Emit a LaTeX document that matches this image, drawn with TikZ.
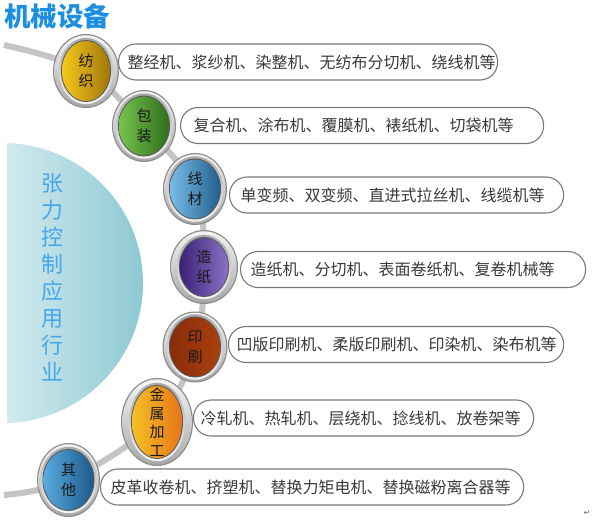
\documentclass[tikz,border=0pt]{standalone}
\usepackage{fontspec}
\newfontfamily\cjk{Noto Sans CJK SC}
\newfontfamily\djv{DejaVu Sans}
\usetikzlibrary{shapes.geometric}
\definecolor{titleblue}{HTML}{1C8FE3}
\definecolor{vblue}{HTML}{45A6EE}
\definecolor{tealL}{HTML}{D2EAEE}
\definecolor{tealR}{HTML}{8CC8D2}
\definecolor{arcgray}{HTML}{C4C4C4}
\definecolor{pillborder}{HTML}{7A7A7A}
\definecolor{pilltext}{HTML}{3A3A3A}
\definecolor{ringedge}{HTML}{8E8E8E}
\definecolor{ringA}{HTML}{F4F4F4}
\definecolor{ringB}{HTML}{A8A8A8}
\definecolor{ringinner}{HTML}{5A5A5A}
\tikzset{
  arcline/.style={draw=arcgray, line width=6pt},
  pill/.style={draw=pillborder, line width=1.1pt, fill=white, rounded corners=17.5pt,
    minimum height=36pt, anchor=west, align=left, inner ysep=0pt,
    font=\cjk\fontsize{16}{16}\selectfont, text=pilltext},
  balltxt/.style={align=center, inner sep=0pt, text=black!90,
    font=\cjk\fontsize{15}{20}\selectfont},
  g1/.style={left color={rgb,255:red,246;green,200;blue,28}, right color={rgb,255:red,160;green,118;blue,10}},
  g2/.style={left color={rgb,255:red,120;green,194;blue,78}, right color={rgb,255:red,46;green,110;blue,28}},
  g3/.style={left color={rgb,255:red,120;green,188;blue,232}, right color={rgb,255:red,34;green,96;blue,142}},
  g4/.style={left color={rgb,255:red,60;green,34;blue,118}, middle color={rgb,255:red,106;green,76;blue,168}, right color={rgb,255:red,140;green,114;blue,198}},
  g5/.style={left color={rgb,255:red,138;green,44;blue,10}, middle color={rgb,255:red,224;green,102;blue,26}, right color={rgb,255:red,168;green,64;blue,14}},
  g6/.style={left color={rgb,255:red,244;green,192;blue,36}, middle color={rgb,255:red,243;green,144;blue,32}, right color={rgb,255:red,232;green,118;blue,26}},
  g7/.style={left color={rgb,255:red,90;green,170;blue,224}, right color={rgb,255:red,28;green,90;blue,138}},
}
% #1 name, #2 x, #3 y, #4 outer rx, #5 outer ry, #6 inner rx, #7 inner ry, #8 shading style, #9 text
\newcommand\myball[9]{%
  \node[ellipse, inner sep=0pt, minimum width=2*#4pt, minimum height=2*#5pt] (#1) at (#2,#3) {};
  \fill[ringedge] (#1.center) ellipse[x radius=#4pt, y radius=#5pt];
  \shade[top color=ringA, bottom color=ringB] (#1.center) ellipse[x radius=#4pt-1.3pt, y radius=#5pt-1.3pt];
  \shade[top color=ringB, bottom color=ringA] (#1.center) ellipse[x radius=#6pt+3.2pt, y radius=#7pt+3.2pt];
  \fill[ringinner] (#1.center) ellipse[x radius=#6pt+1pt, y radius=#7pt+1pt];
  \shade[#8] (#1.center) ellipse[x radius=#6pt, y radius=#7pt];
  \node[balltxt] (#1t) at (#1.center) {#9};
}
\begin{document}
\begin{tikzpicture}[x=1pt,y=-1pt]
\useasboundingbox (0,0) rectangle (593,520);
\fill[white] (0,0) rectangle (593,520);

% title
\node[font=\cjk\bfseries\fontsize{26.5}{26.5}\selectfont, text=titleblue, inner sep=0pt, anchor=west] (title) at (4,16) {机械设备};

% big semicircle
\shade[left color=tealL, right color=tealR] (7,143.1) arc[start angle=88.36, end angle=-88.36, radius=140pt] -- cycle;
\node[font=\cjk\fontsize{22}{27}\selectfont, text=vblue, align=center, inner sep=0pt] (vt) at (52,277)
  {张\\力\\控\\制\\应\\用\\行\\业};

% pills
\node[pill, minimum width=379pt, inner xsep=9pt, text width=361pt] (p1) at (118,62) {整经机、浆纱机、染整机、无纺布分切机、绕线机等};
\node[pill, minimum width=363pt, inner xsep=13pt, text width=337pt] (p2) at (180,125.5) {复合机、涂布机、覆膜机、裱纸机、切袋机等};
\node[pill, minimum width=334pt, inner xsep=11pt, text width=312pt] (p3) at (229,195) {单变频、双变频、直进式拉丝机、线缆机等};
\node[pill, minimum width=345pt, inner xsep=10pt, text width=325pt] (p4) at (240,269.5) {造纸机、分切机、表面卷纸机、复卷机械等};
\node[pill, minimum width=335pt, inner xsep=8pt, text width=319pt] (p5) at (228,344.5) {凹版印刷机、柔版印刷机、印染机、染布机等};
\node[pill, minimum width=340pt, inner xsep=7pt, text width=326pt] (p6) at (193,418) {冷轧机、热轧机、层绕机、捻线机、放卷架等};
\node[pill, minimum width=423pt, inner xsep=10pt, text width=403pt] (p7) at (100,487) {皮革收卷机、挤塑机、替换力矩电机、替换磁粉离合器等};

% ball anchors for the connecting arc
\coordinate (arcS) at (4,45);
\coordinate (arcE) at (4,495);
\coordinate (c1) at (86,71);
\coordinate (c2) at (144,126);
\coordinate (c3) at (195,189);
\coordinate (c4) at (204,267);
\coordinate (c5) at (195,347);
\coordinate (c6) at (157,421);
\coordinate (c7) at (68.5,480);
\draw[arcline] plot[smooth, tension=0.6] coordinates {(arcS) (c1) (c2) (c3) (c4) (c5) (c6) (c7) (arcE)};

% balls
\myball{b1}{86}{71}{33}{37}{24}{30}{g1}{纺\\织}
\myball{b2}{144}{126}{32}{36}{25}{29.5}{g2}{包\\装}
\myball{b3}{195}{189}{32}{36}{25}{29.5}{g3}{线\\材}
\myball{b4}{204}{267}{34}{37}{24}{29}{g4}{造\\纸}
\myball{b5}{195}{347}{32.5}{35.5}{25}{29.5}{g5}{印\\刷}
\myball{b6}{157}{422}{36}{44}{25}{36}{g6}{金\\[-1.5pt]属\\[-1.5pt]加\\[-1.5pt]工}
\myball{b7}{68.5}{480}{31.5}{37}{25}{30}{g7}{其\\他}

% paragraph mark
\node[font=\djv\fontsize{8}{8}\selectfont, text=black!60, inner sep=0pt] (pm) at (587,513) {↵};
\end{tikzpicture}
\end{document}
